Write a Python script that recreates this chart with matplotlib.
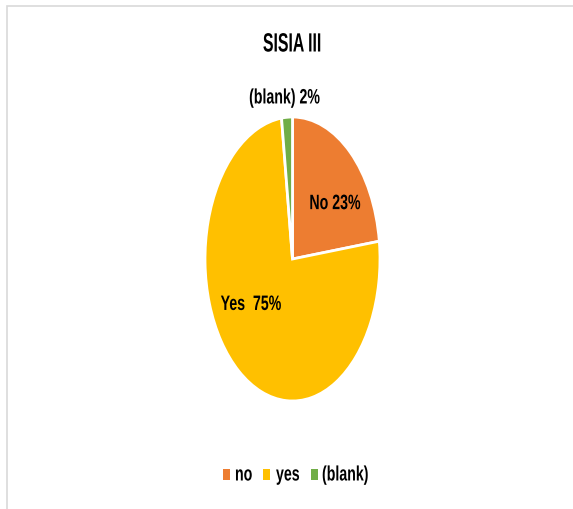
import matplotlib
matplotlib.use("Agg")
import matplotlib.pyplot as plt
from matplotlib.patches import Rectangle
from matplotlib.patheffects import AbstractPathEffect
from matplotlib.transforms import Affine2D

plt.rcParams['font.family'] = ['Liberation Sans', 'DejaVu Sans']

categories = ["no", "yes", "(blank)"]
slice_labels = ["No", "Yes ", "(blank)"]
values = [23, 75, 2]
colors = ["#ED7D31", "#FFC000", "#70AD47"]


class Narrow(AbstractPathEffect):
    """Squeeze a text horizontally about its anchor point (condensed look)."""

    def __init__(self, text, sx):
        super().__init__()
        self.text = text
        self.sx = sx

    def draw_path(self, renderer, gc, tpath, affine, rgbFace=None):
        cx, cy = self.text.get_transform().transform(self.text.get_position())
        squeeze = Affine2D().translate(-cx, 0).scale(self.sx, 1).translate(cx, 0)
        renderer.draw_path(gc, tpath, affine + squeeze, rgbFace)


def narrow(t, sx=0.68):
    t.set_path_effects([Narrow(t, sx)])
    return t


W, H = 573, 510
fig = plt.figure(figsize=(W / 100, H / 100), dpi=100)

# light frame around the chart area
fig.patches.append(Rectangle((7 / W, -0.1), 1.2, (H - 7) / H + 0.1,
                             transform=fig.transFigure, fill=False,
                             edgecolor="#D9D9D9", linewidth=1.2))

# pie axes stretched so the pie is drawn as an ellipse
ax = fig.add_axes([205 / W, (H - 402) / H, 175 / W, 284 / H])
ax.pie(values, colors=colors, startangle=90, counterclock=False,
       wedgeprops=dict(edgecolor="white", linewidth=2), radius=1)
ax.set_aspect("auto")
ax.set_xlim(-1.0, 1.0)
ax.set_ylim(-1.0, 1.0)
ax.axis("off")

label_pos = [(0.486, 0.39), (-0.474, -0.32), (-0.09, 1.134)]
for lab, v, (x, y) in zip(slice_labels, values, label_pos):
    narrow(ax.text(x, y, f"{lab} {v}%", ha="center", va="center",
                   fontsize=15, fontweight="bold", color="black", clip_on=False))

narrow(fig.text(292 / W, 1 - 45.5 / H, "SISIA III", ha="center", va="center",
                fontsize=19, fontweight="bold"), 0.6)

# legend row below the pie
marker_x = [223, 263, 311]
text_x = [235, 276, 322]
for cat, c, mx, tx in zip(categories, colors, marker_x, text_x):
    fig.patches.append(Rectangle((mx / W, 1 - 481 / H), 7 / W, 11 / H,
                                 transform=fig.transFigure, facecolor=c,
                                 edgecolor="none"))
    narrow(fig.text(tx / W, 1 - 476 / H, cat, ha="left", va="center",
                    fontsize=15, fontweight="bold"))

fig.savefig("out.png", dpi=100)
